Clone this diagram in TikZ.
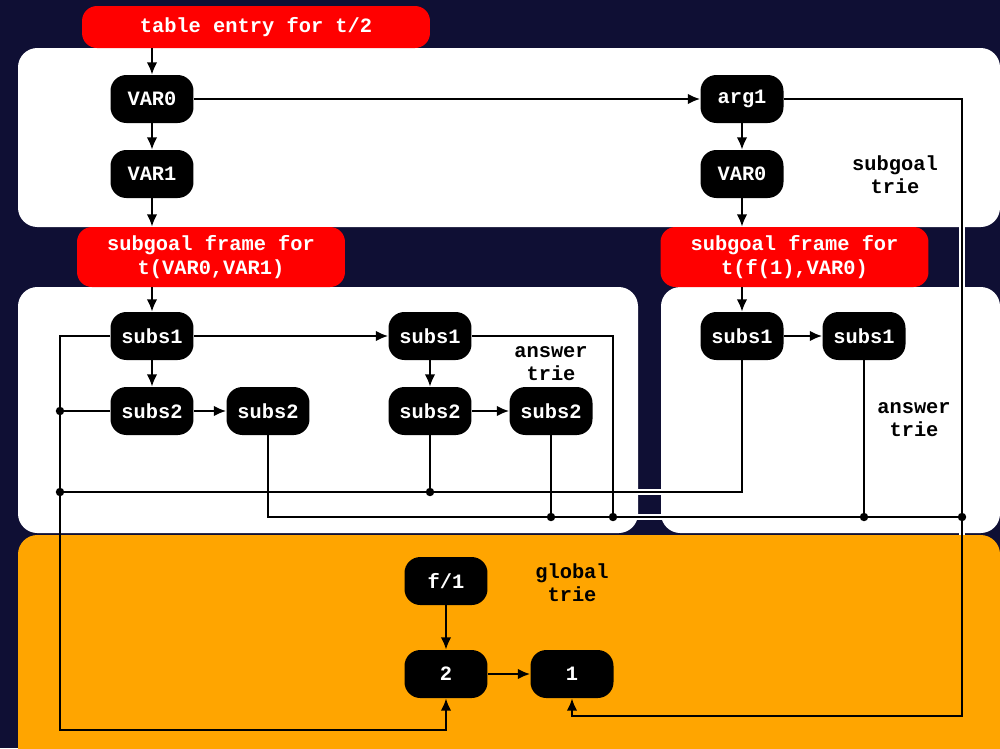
\documentclass[tikz,border=0pt]{standalone}
\usepackage{fontspec}
\setmonofont{Liberation Mono}
\usetikzlibrary{arrows.meta,positioning}
\definecolor{trnavy}{RGB}{15,15,52}
\definecolor{trred}{RGB}{255,0,0}
\definecolor{trorange}{RGB}{255,165,0}
\pgfdeclarelayer{panels}
\pgfdeclarelayer{halo}
\pgfdeclarelayer{globpanel}
\pgfsetlayers{panels,halo,globpanel,main}
\tikzset{
  trie/.style={fill=black, text=white, rounded corners=9pt, minimum width=1.66cm, minimum height=0.96cm, inner sep=0pt, font=\ttfamily\bfseries\fontsize{11.6}{13}\selectfont},
  tblbox/.style={fill=trred, text=white, rounded corners=8.5pt, inner sep=0pt, align=center, font=\ttfamily\bfseries\fontsize{11.6}{13.5}\selectfont},
  lbl/.style={align=center, text=black, font=\ttfamily\bfseries\fontsize{11.6}{13}\selectfont},
  panel/.style={fill=white, rounded corners=11pt},
  wire/.style={line width=1.1pt},
  arr/.style={wire, -{Latex[length=7pt,width=6pt]}},
  halowire/.style={draw=white, line width=3.4pt},
  dot/.style={circle, fill=black, inner sep=0pt, minimum size=4.8pt}
}
\begin{document}
\begin{tikzpicture}[x=0.02cm, y=-0.02cm]
  \useasboundingbox (0,0) rectangle (1000,748);

  % background and panels
  \begin{pgfonlayer}{panels}
    \fill[trnavy] (0,0) rectangle (1000,748);
    \fill[panel] (18,48) rectangle (1000,227);
    \fill[panel] (18,287) rectangle (638,533);
    \fill[panel] (661,287) rectangle (1000,533);
  \end{pgfonlayer}
  \begin{pgfonlayer}{globpanel}
    \fill[trorange, rounded corners=11pt] (18,535) rectangle (1000,770);
  \end{pgfonlayer}

  % table entry and subgoal frames
  \node[tblbox, minimum width=6.96cm, minimum height=0.84cm] (tbl) at (256,27) {table entry for t/2};
  \node[tblbox, minimum width=5.36cm, minimum height=1.2cm] (sfl) at (211,257) {subgoal frame for\\t(VAR0,VAR1)};
  \node[tblbox, minimum width=5.36cm, minimum height=1.2cm] (sfr) at (794.5,257) {subgoal frame for\\t(f(1),VAR0)};

  % subgoal trie
  \node[trie] (v0) at (152,99) {VAR0};
  \node[trie] (v1) at (152,174) {VAR1};
  \node[trie] (arg1) at (742,99) {arg1};
  \node[trie] (v0r) at (742,174) {VAR0};
  \node[lbl] (lsg) at (895,175) {subgoal\\trie};

  % answer tries
  \node[trie] (sa) at (152,336) {subs1};
  \node[trie] (sb) at (152,411) {subs2};
  \node[trie] (sc) at (268,411) {subs2};
  \node[trie] (sd) at (430,336) {subs1};
  \node[trie] (se) at (430,411) {subs2};
  \node[trie] (sf) at (551,411) {subs2};
  \node[lbl] (lat1) at (551,364) {answer\\trie};
  \node[trie] (sg) at (742,336) {subs1};
  \node[trie] (sh) at (864,336) {subs1};
  \node[lbl] (lat2) at (914,420) {answer\\trie};

  % global trie
  \node[trie] (f1) at (446,581) {f/1};
  \node[trie] (two) at (446,674) {2};
  \node[trie] (one) at (572,674) {1};
  \node[lbl] (lgt) at (572,583) {global\\trie};

  \coordinate (lbend) at (60,730);
  \coordinate (rbend) at (962,716);
  \coordinate (busA) at (60,492);
  \coordinate (busB) at (962,517);
  \coordinate (busC) at (613,517);

  % tree edges
  \draw[arr] (tbl.south -| v0) -- (v0.north);
  \draw[arr] (v0) -- (v1);
  \draw[arr] (v1.south) -- (v1.south |- sfl.north);
  \draw[arr] (v0) -- (arg1);
  \draw[arr] (arg1) -- (v0r);
  \draw[arr] (v0r.south) -- (v0r.south |- sfr.north);
  \draw[arr] (sfl.south -| sa) -- (sa.north);
  \draw[arr] (sfr.south -| sg) -- (sg.north);
  \draw[arr] (sa) -- (sb);
  \draw[arr] (sa) -- (sd);
  \draw[arr] (sb) -- (sc);
  \draw[arr] (sd) -- (se);
  \draw[arr] (se) -- (sf);
  \draw[arr] (sg) -- (sh);
  \draw[arr] (f1) -- (two);
  \draw[arr] (two) -- (one);

  % links into the global trie
  \begin{pgfonlayer}{halo}
    \draw[halowire] (sg.south) |- (busA);
    \draw[halowire] (sc.south) |- (busB);
    \draw[halowire] (arg1.east) -| (rbend);
  \end{pgfonlayer}
  \draw[arr] (sa.west) -| (lbend) -| (two.south);
  \draw[wire] (sb.west) -- (sb.west -| lbend);
  \draw[wire] (sg.south) |- (busA);
  \draw[wire] (se.south) -- (se.south |- busA);
  \draw[wire] (sc.south) |- (busB);
  \draw[wire] (sd.east) -| (busC);
  \draw[wire] (sf.south) -- (sf.south |- busB);
  \draw[wire] (sh.south) -- (sh.south |- busB);
  \draw[arr] (arg1.east) -| (rbend) -| (one.south);

  \node[dot] (d1) at (sb.west -| lbend) {};
  \node[dot] (d2) at (busA) {};
  \node[dot] (d3) at (se.south |- busA) {};
  \node[dot] (d4) at (sf.south |- busB) {};
  \node[dot] (d5) at (busC) {};
  \node[dot] (d6) at (sh.south |- busB) {};
  \node[dot] (d7) at (busB) {};
\end{tikzpicture}
\end{document}
